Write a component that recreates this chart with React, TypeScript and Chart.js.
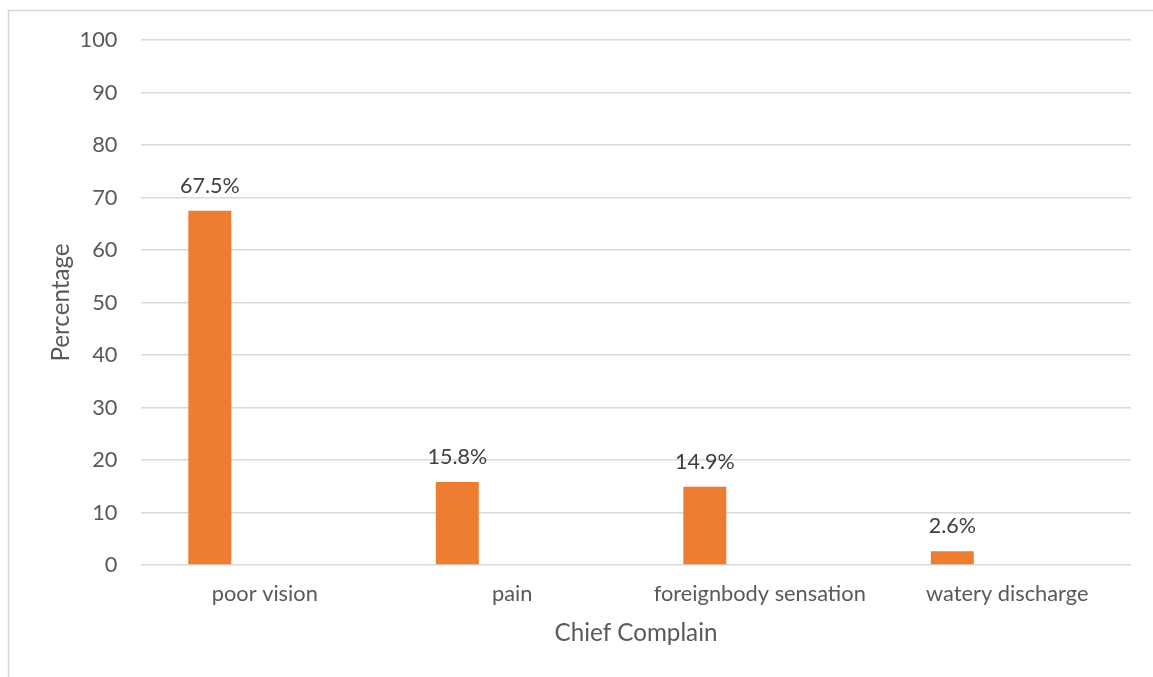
import React, { useEffect, useRef } from "react";
import { Chart, registerables } from "chart.js";

Chart.register(...registerables);

const categories = ["poor vision", "pain", "foreignbody sensation", "watery discharge"];
const percentages = [67.5, 15.8, 14.9, 2.6];
const emptySeries = [null, null, null, null];
const yTicks = { min: 0, max: 100, step: 10 };
const yTitle = "Percentage";
const xTitle = "Chief Complain";

const FONT = "Lato";
const TICK_SIZE = 21.8;
const LABEL_SIZE = 21.5;
const TITLE_SIZE = 24.2;

const framePlugin = {
  id: "frame",
  beforeDraw(chart: any) {
    const { ctx, width, height } = chart;
    ctx.save();
    ctx.fillStyle = "#ffffff";
    ctx.fillRect(0, 0, width, height);
    ctx.strokeStyle = "#d6d6d6";
    ctx.lineWidth = 1.5;
    ctx.beginPath();
    ctx.moveTo(8.5, height);
    ctx.lineTo(8.5, 10.5);
    ctx.lineTo(width, 10.5);
    ctx.stroke();
    ctx.restore();
  },
};

const labelPlugin = {
  id: "barLabels",
  afterDatasetsDraw(chart: any) {
    const { ctx } = chart;
    const meta = chart.getDatasetMeta(0);
    ctx.save();
    ctx.font = `${LABEL_SIZE}px ${FONT}`;
    ctx.fillStyle = "#404040";
    ctx.textAlign = "center";
    ctx.textBaseline = "middle";
    meta.data.forEach((bar: any, i: number) => {
      const v = percentages[i];
      ctx.fillText(`${v.toFixed(1)}%`, bar.x, bar.y - 25);
    });
    ctx.restore();
  },
};

export default function App() {
  const ref = useRef<HTMLCanvasElement>(null);

  useEffect(() => {
    let chart: Chart | null = null;
    let cancelled = false;
    const make = () => {
      if (cancelled || !ref.current) return;
      chart = new Chart(ref.current, {
        type: "bar",
        data: {
          labels: categories,
          datasets: [
            {
              label: "Percentage",
              data: percentages,
              backgroundColor: "#ED7D31",
              borderWidth: 0,
              categoryPercentage: 0.888,
              barPercentage: 0.391,
            },
            {
              label: "",
              data: emptySeries as any,
              backgroundColor: "#A5A5A5",
              categoryPercentage: 0.888,
              barPercentage: 0.391,
            },
          ],
        },
        options: {
          animation: false,
          responsive: true,
          maintainAspectRatio: false,
          layout: { padding: { left: 0, right: 22, top: 40, bottom: 0 } },
          plugins: { legend: { display: false }, tooltip: { enabled: false } },
          scales: {
            x: {
              grid: { display: false, drawTicks: false },
              border: { display: false },
              ticks: {
                color: "#595959",
                font: { family: FONT, size: TICK_SIZE },
                padding: 16,
                maxRotation: 0,
                autoSkip: false,
              },
              title: {
                display: true,
                text: xTitle,
                color: "#595959",
                font: { family: FONT, size: TITLE_SIZE },
                padding: { top: 0, bottom: 29 },
              },
              afterFit(scale: any) {
                scale.height = 112;
              },
            },
            y: {
              min: yTicks.min,
              max: yTicks.max,
              grid: { color: "#d9d9d9", lineWidth: 1.5, drawTicks: false },
              border: { display: false },
              ticks: {
                stepSize: yTicks.step,
                color: "#595959",
                font: { family: FONT, size: TICK_SIZE },
                padding: 23.5,
              },
              title: {
                display: true,
                text: yTitle,
                color: "#595959",
                font: { family: FONT, size: TITLE_SIZE },
                padding: { top: 46.5, bottom: 0 },
              },
              afterFit(scale: any) {
                scale.width = 141;
              },
            },
          },
        },
        plugins: [framePlugin, labelPlugin],
      });
    };
    const fontsReady = (document as any).fonts
      ? Promise.all([
          (document as any).fonts.load(`${TICK_SIZE}px ${FONT}`),
          (document as any).fonts.load(`${TITLE_SIZE}px ${FONT}`),
        ]).catch(() => null)
      : Promise.resolve(null);
    fontsReady.then(make);
    return () => {
      cancelled = true;
      if (chart) chart.destroy();
    };
  }, []);

  return (
    <div style={{ position: "fixed", left: 0, top: 0, width: 1153, height: 677 }}>
      <canvas ref={ref} />
    </div>
  );
}
